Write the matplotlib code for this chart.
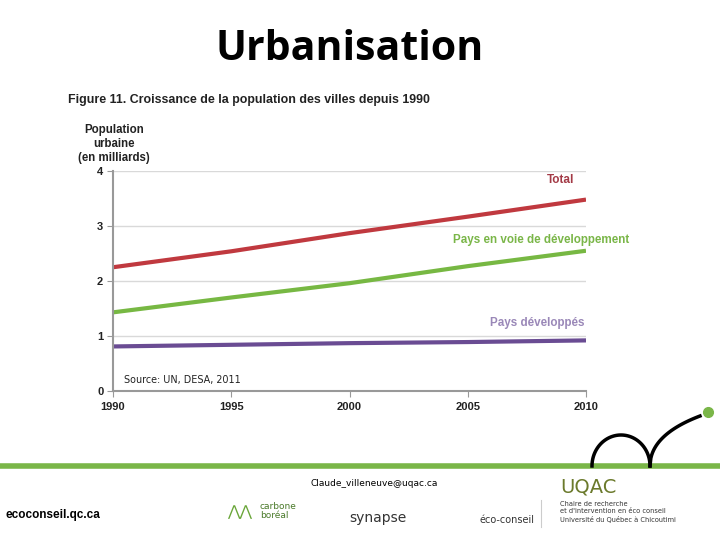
import matplotlib
matplotlib.use("Agg")
import matplotlib.pyplot as plt
import numpy as np

# population urbaine (milliards)
years = [1990, 1995, 2000, 2005, 2010]
total = [2.25, 2.54, 2.87, 3.17, 3.48]
pays_voie = [1.43, 1.70, 1.96, 2.27, 2.55]
pays_dev = [0.81, 0.84, 0.87, 0.89, 0.92]

fig = plt.figure(figsize=(7.2, 5.4), dpi=100)

# fond de la diapo en coordonnees pixels
bg = fig.add_axes([0, 0, 1, 1])
bg.set_xlim(0, 720)
bg.set_ylim(540, 0)
bg.axis('off')

bg.text(350, 50, 'Urbanisation', fontsize=29.5, fontweight='bold',
        family='Open Sans', ha='center', va='center')
bg.text(68, 100, 'Figure 11. Croissance de la population des villes depuis 1990',
        fontsize=8.9, fontweight='bold', family='Liberation Sans', color='#222222',
        ha='left', va='center')
bg.text(114, 144, 'Population\nurbaine\n(en milliards)', fontsize=8.3, fontweight='bold',
        family='Liberation Sans', color='#222222', ha='center', va='center',
        linespacing=1.2)

# bande verte et arcs
bg.plot([0, 720], [466, 466], color='#7ab648', lw=4, solid_capstyle='butt')
t = np.linspace(0, np.pi, 60)
bg.plot(592 + 29 * (1 - np.cos(t)), 466 - 31 * np.sin(t), color='black', lw=2.5)
u = np.linspace(0, 1, 60)
bg.plot(650 + 50 * u, 466 - 62 * np.sqrt(u) + 12 * u, color='black', lw=2.5)
bg.plot([708], [412], 'o', color='#7ab648', ms=7)

bg.text(374, 484, 'Claude_villeneuve@uqac.ca', fontsize=6.5, family='DejaVu Sans',
        ha='center', va='center')
bg.text(5, 515, 'ecoconseil.qc.ca', fontsize=8.5, fontweight='bold',
        family='Liberation Sans', ha='left', va='center')
bg.text(260, 511, 'carbone\nboréal', fontsize=6.5, color='#4a7a2a', family='DejaVu Sans',
        ha='left', va='center', linespacing=0.9)
bg.text(240, 512, '⋀⋀', fontsize=11, color='#6aa63a', ha='center', va='center')
bg.text(378, 518, 'synapse', fontsize=10, color='#333333', family='DejaVu Sans',
        ha='center', va='center')
bg.text(507, 520, 'éco-conseil', fontsize=7, color='#333333', family='DejaVu Sans',
        ha='center', va='center')
bg.plot([541, 541], [500, 527], color='#cccccc', lw=0.8)
bg.text(560, 487, 'UQAC', fontsize=14, color='#6b7a2c', family='DejaVu Sans',
        ha='left', va='center')
bg.text(560, 512, "Chaire de recherche\net d'intervention en éco conseil\nUniversité du Québec à Chicoutimi",
        fontsize=4.8, color='#333333', family='DejaVu Sans', ha='left', va='center',
        linespacing=1.2)

# graphique
ax = fig.add_axes([113 / 720, 1 - 391 / 540, (586 - 113) / 720, (391 - 171) / 540])
ax.patch.set_alpha(0)
ax.plot(years, total, color='#c0393f', lw=3, solid_capstyle='butt')
ax.plot(years, pays_voie, color='#77b843', lw=3, solid_capstyle='butt')
ax.plot(years, pays_dev, color='#6a4c93', lw=3, solid_capstyle='butt')

ax.set_xlim(1990, 2010)
ax.set_ylim(0, 4)
ax.set_xticks([1990, 1995, 2000, 2005, 2010])
ax.set_yticks([0, 1, 2, 3, 4])
ax.grid(axis='y', color='#d9d9d9', lw=1)
ax.set_axisbelow(True)
for s in ['top', 'right']:
    ax.spines[s].set_visible(False)
ax.spines['left'].set_color('#999999')
ax.spines['bottom'].set_color('#999999')
ax.spines['left'].set_linewidth(1.5)
ax.spines['bottom'].set_linewidth(1.5)
ax.tick_params(axis='y', length=4, color='#999999', pad=3)
ax.tick_params(axis='x', length=4, color='#999999', pad=4)
for lab in ax.get_xticklabels() + ax.get_yticklabels():
    lab.set_fontweight('bold')
    lab.set_fontsize(8)
    lab.set_family('Liberation Sans')
    lab.set_color('#222222')

ax.text(2008.35, 3.84, 'Total', color='#a33a46', fontsize=8.5, fontweight='bold',
        family='Liberation Sans', va='center', ha='left')
ax.text(2004.38, 2.75, 'Pays en voie de développement', color='#7ab648', fontsize=8.4,
        fontweight='bold', family='Liberation Sans', va='center', ha='left', clip_on=False)
ax.text(2005.94, 1.24, 'Pays développés', color='#9a88b8', fontsize=8.4, fontweight='bold',
        family='Liberation Sans', va='center', ha='left')
ax.text(1990.45, 0.2, 'Source: UN, DESA, 2011', fontsize=6.9, family='DejaVu Sans',
        color='#222222', va='center', ha='left')

fig.savefig('out.png', dpi=100)
